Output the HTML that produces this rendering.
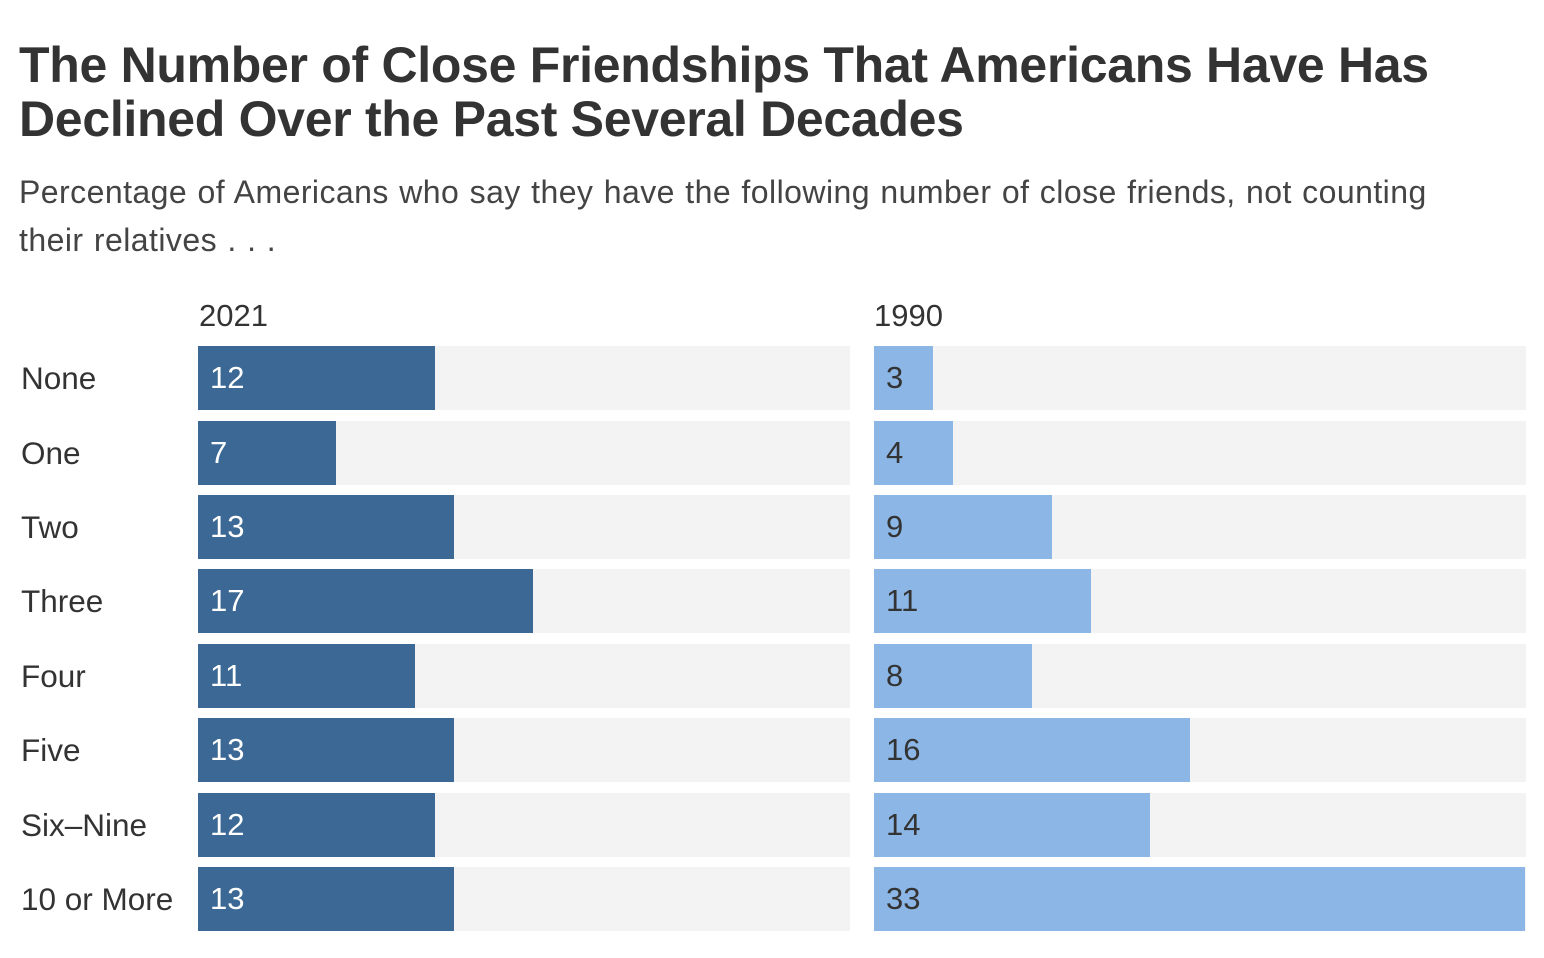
<!DOCTYPE html>
<html><head><meta charset="utf-8"><style>
body{margin:0;width:1544px;height:958px;background:#fff;font-family:"Liberation Sans",sans-serif;color:#333;position:relative;overflow:hidden}
.t{position:absolute;left:19px;top:38px;font-size:50px;font-weight:bold;line-height:54px;color:#333;letter-spacing:-0.3px;white-space:nowrap}
.s{position:absolute;left:19px;top:168px;font-size:32px;line-height:48px;color:#444;white-space:nowrap;letter-spacing:0.45px;word-spacing:1px}
.h{position:absolute;top:298px;font-size:31px;color:#333}
.l{position:absolute;left:21px;font-size:31.5px;color:#333;line-height:64px}
.bg{position:absolute;height:64px;background:#f3f3f3;width:652px}
.b{position:absolute;left:0;top:0;height:64px;font-size:31px;line-height:64px;box-sizing:border-box;padding-left:12px}
.d{background:#3b6894;color:#fff}
.g{background:#8bb6e6;color:#333}
</style></head><body>
<div class="t">The Number of Close Friendships That Americans Have Has<br>Declined Over the Past Several Decades</div>
<div class="s">Percentage of Americans who say they have the following number of close friends, not counting<br>their relatives . . .</div>
<div class="h" style="left:199px">2021</div>
<div class="h" style="left:874px">1990</div>
<script>
var rows=[["None",12,3],["One",7,4],["Two",13,9],["Three",17,11],["Four",11,8],["Five",13,16],["Six–Nine",12,14],["10 or More",13,33]];
var tops=[346,421,495,569,644,718,793,867],h="";
var u=651/33;
rows.forEach(function(r,i){var t=tops[i];
h+='<div class="l" style="top:'+t+'px">'+r[0]+'</div>';
h+='<div class="bg" style="left:198px;top:'+t+'px"><div class="b d" style="width:'+Math.round(r[1]*u)+'px">'+r[1]+'</div></div>';
h+='<div class="bg" style="left:874px;top:'+t+'px"><div class="b g" style="width:'+Math.round(r[2]*u)+'px">'+r[2]+'</div></div>';});
document.write(h);
</script>
</body></html>
